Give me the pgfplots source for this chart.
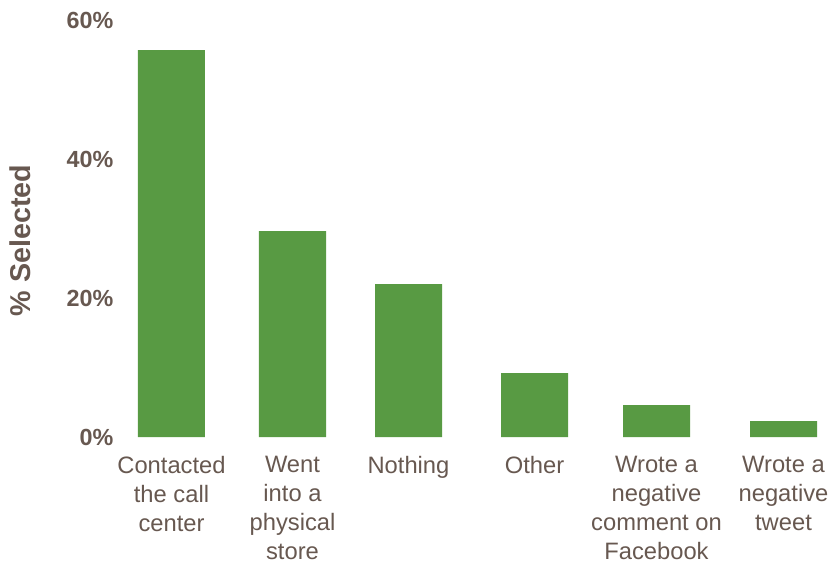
\documentclass[border=0pt]{standalone}
\usepackage{fontspec}
\setmainfont{Liberation Sans}
\usepackage{pgfplots}
\pgfplotsset{compat=1.18}
\definecolor{bargreen}{RGB}{88,154,67}
\definecolor{txt}{RGB}{103,88,80}
\begin{document}
\begin{tikzpicture}
\begin{axis}[
  x=0.75pt, y=5.2125pt,
  xmin=115, xmax=836, ymin=0, ymax=60,
  axis line style={draw=none},
  tick style={draw=none},
  major tick length=0pt,
  ybar, bar width=67,
  xtick={171.5,292.5,408.5,534.5,656.5,783.5},
  xticklabels={{Contacted\\the call\\center},{Went\\into a\\physical\\store},Nothing,Other,{Wrote a\\negative\\comment on\\Facebook},{Wrote a\\negative\\tweet}},
  xticklabel style={align=center, font=\fontsize{17.8}{21.9}\selectfont, text=txt, anchor=north, inner sep=0pt, yshift=-14pt},
  ytick={0,20,40,60},
  yticklabels={0\%,20\%,40\%,60\%},
  yticklabel style={font=\fontsize{17.5}{20}\selectfont\bfseries, text=txt, anchor=east, inner sep=0pt, xshift=-1pt},
  ylabel={\% Selected},
  ylabel style={at={(axis description cs:-0.1318,0.4717)}, anchor=center, font=\fontsize{21.5}{24}\selectfont\bfseries, text=txt},
  clip=false,
]
\addplot[fill=bargreen, draw=none] coordinates {(171.5,55.68) (292.5,29.64) (408.5,22.01) (534.5,9.21) (656.5,4.60) (783.5,2.30)};
\coordinate (bl) at (axis cs:0,-19.71);
\coordinate (tr) at (axis cs:836,62.88);
\end{axis}
\pgfresetboundingbox
\useasboundingbox (bl) rectangle (tr);
\end{tikzpicture}
\end{document}
